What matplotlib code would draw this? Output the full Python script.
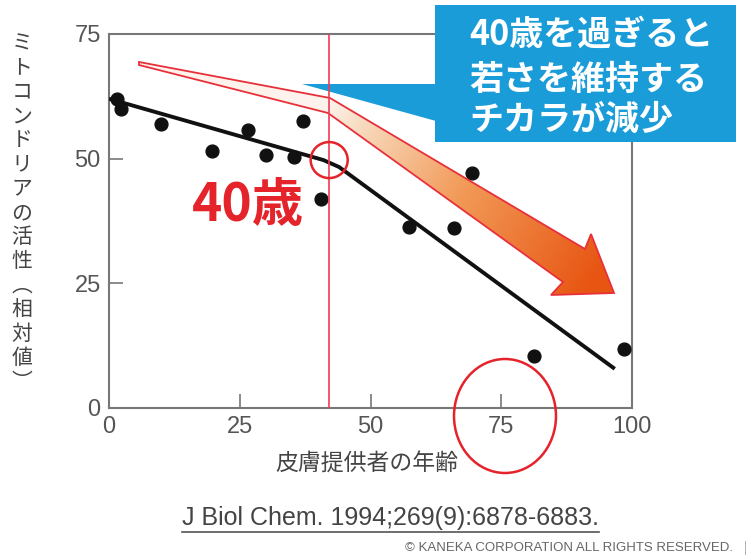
import matplotlib
matplotlib.use('Agg')
import matplotlib.pyplot as plt
import numpy as np
from matplotlib.patches import Polygon, Rectangle, Ellipse
from matplotlib.colors import LinearSegmentedColormap
from matplotlib.lines import Line2D

plt.rcParams['font.family'] = ['Noto Sans CJK JP', 'DejaVu Sans']

# skin donor age vs relative mitochondrial activity
age = [1.5, 2.2, 9.9, 19.7, 26.6, 30.0, 35.4, 37.0, 40.5, 57.4, 66.0, 69.5, 81.3, 98.5]
activity = [62.0, 59.9, 56.9, 51.6, 55.8, 50.8, 50.4, 57.6, 41.8, 36.3, 36.0, 47.2, 10.4, 11.7]
# fitted trend (breaks at ~40)
trend_age = [0, 41, 44, 96.7]
trend_act = [62.0, 49.7, 48.3, 7.8]
turn_age = 42.1
turn_act = 49.7
xticks = [0, 25, 50, 75, 100]
yticks = [0, 25, 50, 75]

callout = ['40歳を過ぎると', '若さを維持する', 'チカラが減少']
ylabel = 'ミトコンドリアの活性︵相対値︶'
xlabel = '皮膚提供者の年齢'

W, H = 753, 555
L, R, T, B = 109, 632, 34, 407.7   # axes box in pixels


def fx(px):
    return px / W


def fy(py):
    return 1 - py / H


def to_data(px, py):
    return (px - L) / (R - L) * 100, (B - py) / (B - T) * 75


fig = plt.figure(figsize=(W / 100, H / 100), dpi=100)
ax = fig.add_axes([fx(L), fy(B), (R - L) / W, (B - T) / H])

grey = '#777777'
red = '#e5232a'

# data
ax.plot(trend_age, trend_act, color='#111111', lw=2.8, solid_capstyle='butt', zorder=3)
ax.scatter(age, activity, s=85, color='#111111', zorder=3.2)
ax.axvline(turn_age, color='#ee3b55', lw=1.2, zorder=4.5)
ax.add_patch(Ellipse((turn_age, turn_act), 37 / (R - L) * 100, 36 / (B - T) * 75,
                     fill=False, ec=red, lw=1.8, zorder=4.6))

# blue callout tail + box
tail = [(302, 84), (436, 84), (436, 121)]
ax.add_patch(Polygon([to_data(*p) for p in tail], closed=True, fc='#1a9cd8', ec='none',
                     zorder=3.5, clip_on=False))
ax.add_patch(Rectangle(to_data(435, 142), (736 - 435) / (R - L) * 100, 137 / (B - T) * 75,
                       fc='#1a9cd8', ec='none', zorder=5, clip_on=False))
for line, py in zip(callout, [34, 79, 119]):
    ax.text(fx(469), fy(py), line, transform=fig.transFigure, ha='left', va='center',
            fontsize=24.5, fontweight='bold', color='white', zorder=6, clip_on=False)

# gradient arrow
arrow_px = [(139, 62), (330, 98), (585, 249), (591, 234), (614, 293), (551, 295),
            (563, 282), (328, 113), (139, 65)]
gx0, gx1, gy0, gy1 = 135, 618, 58, 298
X, Y = np.meshgrid(np.linspace(gx0, gx1, 400), np.linspace(gy0, gy1, 250))
t = np.clip(((X - 330) * 0.86 + (Y - 100) * 0.51) / 320, 0, 1)
cmap = LinearSegmentedColormap.from_list(
    'arr', [(0, '#fdf3ec'), (0.12, '#f8dbc0'), (0.5, '#f29a58'), (1, '#e85512')])
dx0, dy1 = to_data(gx0, gy0)
dx1, dy0 = to_data(gx1, gy1)
im = ax.imshow(t, cmap=cmap, vmin=0, vmax=1, extent=(dx0, dx1, dy0, dy1), origin='upper',
               aspect='auto', zorder=4, interpolation='bilinear')
arrow = Polygon([to_data(*p) for p in arrow_px], closed=True, fc='none', ec='#e8303a',
                lw=1.3, zorder=4.2)
ax.add_patch(arrow)
im.set_clip_path(arrow)

# 40歳 label and circle round 75
tx, ty = to_data(248, 206)
ax.text(tx, ty, '40歳', ha='center', va='center', fontsize=37, fontweight='bold',
        color=red, zorder=5)
ax.add_patch(Ellipse(to_data(505, 416), 102 / (R - L) * 100, 114 / (B - T) * 75,
                     fill=False, ec=red, lw=1.8, zorder=5, clip_on=False))

ax.set_xlim(0, 100)
ax.set_ylim(0, 75)
ax.set_xticks(xticks)
ax.set_yticks(yticks)
for s in ax.spines.values():
    s.set_color(grey)
    s.set_linewidth(1.5)
ax.tick_params(direction='in', length=10, width=1.2, color=grey, pad=6,
               labelsize=17, labelcolor='#555555')
for lab in ax.get_xticklabels() + ax.get_yticklabels():
    lab.set_family('Liberation Sans')

fig.text(fx(367), fy(464), xlabel, ha='center', va='center', fontsize=16.5, color='#444444')
fig.text(fx(22), fy(213), '\n'.join(ylabel), ha='center', va='center', fontsize=15,
         color='#444444', linespacing=1.13)

cite = fig.text(fx(390), fy(518), 'J Biol Chem. 1994;269(9):6878-6883.', ha='center',
                va='center', fontsize=18, color='#444444', family='Liberation Sans')
fig.text(fx(733), fy(548), '© KANEKA CORPORATION ALL RIGHTS RESERVED.', ha='right',
         va='center', fontsize=9.5, color='#666666', family='Liberation Sans')
fig.text(fx(745), fy(548), '|', ha='center', va='center', fontsize=9, color='#999999')

fig.canvas.draw()
bb = cite.get_window_extent()
fig.add_artist(Line2D([bb.x0 / W, bb.x1 / W], [(bb.y0 - 2) / H] * 2, color='#555555', lw=1.2))

fig.savefig('out.png', dpi=100)
